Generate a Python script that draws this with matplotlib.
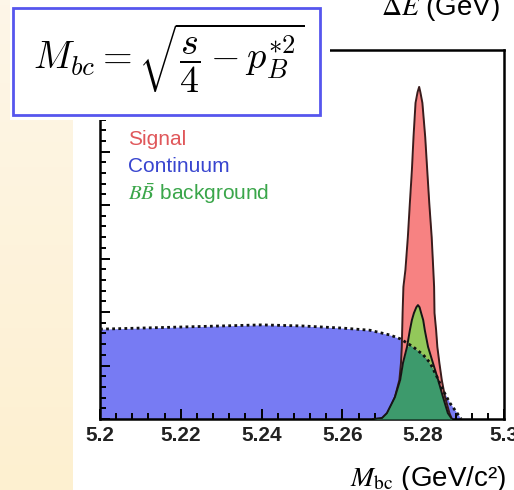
import numpy as np
import matplotlib.pyplot as plt
from matplotlib.patches import Rectangle
from matplotlib.ticker import MultipleLocator, FormatStrFormatter

# --- Data ---
# continuum (ARGUS-like shape), drawn as blue fill with dotted outline
mbc_cont = [5.2, 5.21, 5.22, 5.23, 5.24, 5.25, 5.26, 5.2668, 5.2718, 5.2743,
            5.2775, 5.2800, 5.2817, 5.2834, 5.2849, 5.2866, 5.2884, 5.2894]
cont = [168, 170, 172, 174, 176, 174, 170, 166, 157, 150,
        135, 120, 105, 79, 54, 30, 11, 0]

# signal peak
mbc_sig = [5.2700, 5.2713, 5.2730, 5.2741, 5.2745, 5.2747, 5.2749, 5.2751,
           5.2756, 5.2762, 5.2767, 5.2772, 5.2776, 5.2781, 5.2786, 5.2790,
           5.2793, 5.2798, 5.2805, 5.2810, 5.2815, 5.2821, 5.2825, 5.2827,
           5.2828, 5.2832, 5.2835, 5.2840, 5.2846, 5.2854, 5.2865, 5.2871]
sig = [0, 11, 41, 73, 105, 135, 198, 247,
       279, 340, 404, 465, 527, 591, 611, 621,
       611, 591, 527, 465, 404, 340, 279, 247,
       198, 166, 135, 105, 73, 41, 11, 0]

# peaking BB background
mbc_bb = [5.2676, 5.2698, 5.2710, 5.2730, 5.2743, 5.2750, 5.2760, 5.2767,
          5.2772, 5.2777, 5.2783, 5.2787, 5.2791, 5.2795, 5.2800, 5.2804,
          5.2812, 5.2824, 5.2837, 5.2849, 5.2861, 5.2871]
bb = [0, 2, 11, 41, 73, 105, 135, 166,
      185, 198, 209, 213, 209, 198, 185, 166,
      135, 105, 73, 41, 11, 0]

legend_labels = ["Signal", "Continuum", r"$B\bar{B}$ background"]
legend_colors = ["#e0575a", "#3845cf", "#3aa64a"]

# --- Figure ---
W, H = 514, 490
fig = plt.figure(figsize=(W / 100, H / 100), dpi=100)

def px(x0, y0, w, h):
    # rectangle in pixel coords (from top-left) -> figure fraction
    return [x0 / W, 1 - (y0 + h) / H, w / W, h / H]

# beige slide panel on the left
bg = fig.add_axes(px(0, 0, 73, H), zorder=-1)
grad = np.linspace(0, 1, 100)[:, None]
top_c = np.array([253, 246, 232]) / 255
bot_c = np.array([253, 240, 208]) / 255
bg.imshow(top_c + grad[..., None] * (bot_c - top_c), aspect="auto")
bg.axis("off")

ax = fig.add_axes(px(100, 50, 404, 369))
mbc_cont = np.array(mbc_cont)
cont = np.array(cont)
mbc_bb = np.array(mbc_bb)
bb = np.array(bb)

ax.fill_between(mbc_cont, 0, cont, color="#777bf3", lw=0, zorder=1)
ax.fill_between(mbc_sig, 0, sig, color="#f78282", lw=0, zorder=2)
ax.plot(mbc_sig, sig, color="#3a1c1c", lw=1.4, zorder=2.5)

# BB fill: darker where it overlaps continuum
cont_at_bb = np.interp(mbc_bb, mbc_cont, cont)
low = np.minimum(bb, cont_at_bb)
ax.fill_between(mbc_bb, 0, low, color="#3d9a6c", lw=0, zorder=3)
ax.fill_between(mbc_bb, low, bb, color="#93c85a", lw=0, zorder=3)
ax.plot(mbc_bb, bb, color="#151515", lw=1.4, zorder=3.5)

ax.plot(mbc_cont, cont, color="#111111", lw=2, ls=(0, (1, 1.2)), zorder=4)

ax.set_xlim(5.2, 5.3)
ax.set_ylim(0, 690)
ax.xaxis.set_major_locator(MultipleLocator(0.02))
ax.xaxis.set_minor_locator(MultipleLocator(0.004))
ax.xaxis.set_major_formatter(FormatStrFormatter("%g"))
ax.yaxis.set_major_locator(MultipleLocator(100))
ax.yaxis.set_minor_locator(MultipleLocator(20))
ax.tick_params(which="both", direction="in", top=False, right=False,
               labelleft=False, width=1.4, color="black")
ax.tick_params(which="major", length=7, pad=5)
ax.tick_params(which="minor", length=4)
for lab in ax.get_xticklabels():
    lab.set_fontfamily("Liberation Sans")
    lab.set_fontweight("bold")
    lab.set_fontsize(15)
    lab.set_color("#222222")
for sp in ax.spines.values():
    sp.set_linewidth(1.8)

# legend-style labels
for i, (txt, col) in enumerate(zip(legend_labels, legend_colors)):
    fig.text(128 / W, 1 - [139, 166, 194][i] / H, txt, color=col,
             fontsize=15, family="Liberation Sans", va="center",
             math_fontfamily="stix")

# axis label
fig.text(506 / W, 1 - 486 / H, r"$M_{\rm bc}$ (GeV/c²)", ha="right",
         va="baseline", fontsize=20, family="Liberation Sans",
         math_fontfamily="stix")

# label of the plot above, cut by the slide edge
fig.text(500 / W, 1 - 15 / H, r"$\Delta E$ (GeV)", ha="right", va="baseline",
         fontsize=20, family="Liberation Sans", math_fontfamily="stix")

# formula box on top
fig.add_artist(Rectangle((10 / W, 1 - 120 / H), 320 / W, 120 / H,
                         transform=fig.transFigure, facecolor="white",
                         edgecolor="none", zorder=5))
fig.add_artist(Rectangle((13 / W, 1 - 115 / H), 307 / W, 107 / H,
                         transform=fig.transFigure, facecolor="white",
                         edgecolor="#5656ee", lw=2, zorder=6))
fig.text(169 / W, 1 - 58 / H, r"$M_{bc} = \sqrt{\dfrac{s}{4} - p_B^{*2}}$",
         ha="center", va="center", fontsize=27.5, math_fontfamily="cm",
         zorder=7)

fig.savefig("out.png", dpi=100)
